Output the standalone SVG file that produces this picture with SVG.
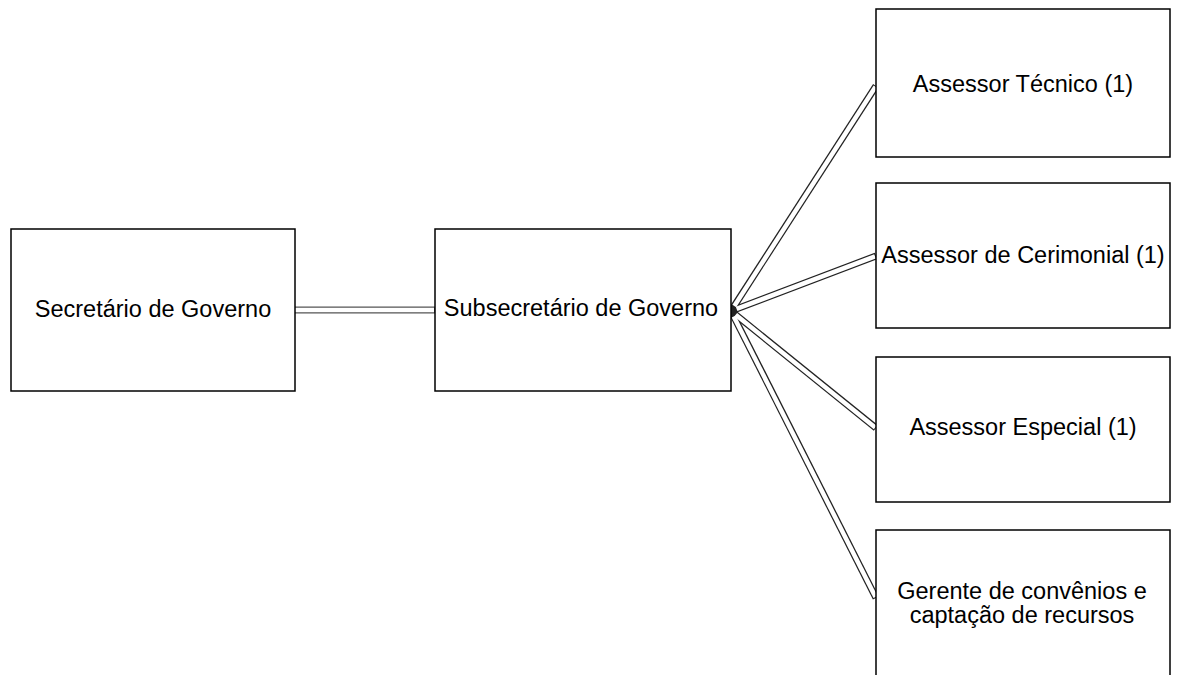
<svg xmlns="http://www.w3.org/2000/svg" width="1178" height="675" viewBox="0 0 1178 675">
<style>
.box{fill:#fff;stroke:#000;stroke-width:1.5}
.t{font-family:"Liberation Sans",Arial,sans-serif;font-size:23.5px;fill:#000;text-anchor:middle}
.outer{fill:none;stroke:#222;stroke-width:7;stroke-linecap:butt}
.inner{fill:none;stroke:#fff;stroke-width:4.5;stroke-linecap:butt}
</style>
<rect width="1178" height="675" fill="#fff"/>
<g id="connectors">
<g>
<line class="outer" x1="293" y1="310" x2="436" y2="310" style="stroke:#555"/>
<line class="outer" x1="731" y1="311" x2="876" y2="86"/>
<line class="outer" x1="731" y1="311" x2="876" y2="256"/>
<line class="outer" x1="731" y1="311" x2="876" y2="428"/>
<line class="outer" x1="731" y1="311" x2="876" y2="598"/>
</g>
<g>
<line class="inner" x1="295" y1="310" x2="434" y2="310"/>
<line class="inner" x1="734.3" y1="306" x2="875.5" y2="86.8"/>
<line class="inner" x1="736.6" y1="308.9" x2="875" y2="256.4"/>
<line class="inner" x1="735.7" y1="314.8" x2="875.2" y2="427.4"/>
<line class="inner" x1="733.7" y1="316.4" x2="875.5" y2="597.1"/>
</g>
<circle cx="731" cy="311" r="3" fill="#222"/>
</g>
<g id="secretario">
<rect class="box" x="11" y="229" width="284" height="162"/>
<text class="t" x="153" y="317">Secretário de Governo</text>
</g>
<g id="subsecretario">
<rect class="box" x="435" y="229" width="296" height="162"/>
<text class="t" x="581" y="316">Subsecretário de Governo</text>
</g>
<g id="assessor-tecnico">
<rect class="box" x="876" y="9" width="294" height="148"/>
<text class="t" x="1023" y="92">Assessor Técnico (1)</text>
</g>
<g id="assessor-cerimonial">
<rect class="box" x="876" y="183" width="294" height="145"/>
<text class="t" x="1023" y="263">Assessor de Cerimonial (1)</text>
</g>
<g id="assessor-especial">
<rect class="box" x="876" y="357" width="294" height="145"/>
<text class="t" x="1023" y="435">Assessor Especial (1)</text>
</g>
<g id="gerente">
<rect class="box" x="876" y="530" width="294" height="160"/>
<text class="t" x="1022" y="599">Gerente de convênios e</text>
<text class="t" x="1022" y="623">captação de recursos</text>
</g>
</svg>
